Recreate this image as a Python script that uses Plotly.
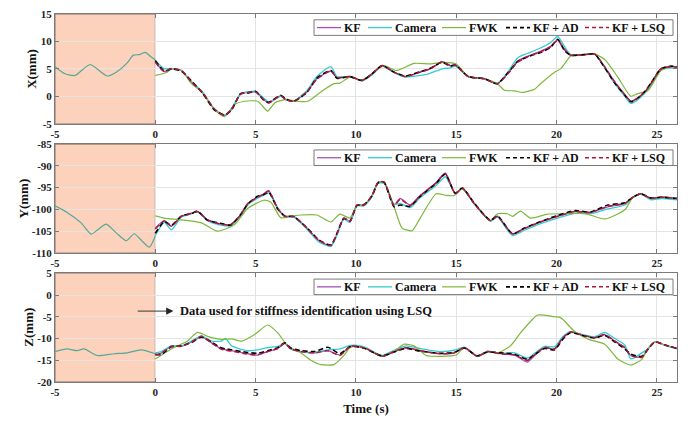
import plotly.graph_objects as go

# ---------------- data ----------------
# pre-identification window (t < 0)
pre_t_x = [-5, -4.5, -4.0, -3.25, -2.4, -1.95, -1.4, -1.1, -0.8, -0.5, -0.25, 0]
pre_x = [5.4, 4.1, 3.8, 5.8, 3.7, 4.4, 6.1, 7.5, 7.6, 8.0, 7.3, 6.6]
pre_t_y = [-5, -4.4, -3.7, -3.2, -2.85, -2.45, -1.95, -1.45, -1.05, -0.7, -0.3, 0]
pre_y = [-99.2, -100.7, -103.1, -105.7, -104.6, -103.4, -105.4, -107.2, -105.6, -107.1, -108.7, -106.1]
pre_t_z = [-5, -4.4, -3.9, -3.55, -2.9, -2.05, -1.4, -0.7, 0]
pre_z = [-13.0, -12.4, -12.8, -12.4, -13.9, -13.5, -13.3, -12.6, -13.5]

# X panel
t_x = [0, 0.45, 0.8, 1.3, 1.8, 2.35, 2.95, 3.45, 3.8, 4.25, 4.6, 5.0, 5.4, 5.65, 6.25, 6.5, 6.9, 7.55,
       8.05, 8.75, 9.05, 9.7, 10.3, 10.8, 11.3, 11.9, 12.45, 13.2, 13.7, 14.3, 14.7, 14.95, 15.6, 16.4,
       17.05, 17.55, 18.05, 18.55, 19.2, 19.7, 20.05, 20.4, 20.7, 21.4, 21.9, 22.2, 22.9, 23.4, 23.7,
       24.05, 24.4, 24.7, 25.2, 25.7, 26]
kf_x = [6.3, 4.5, 5.0, 4.7, 2.6, 0.7, -2.4, -3.5, -2.4, 0.4, 0.7, 0.8, -0.6, -1.2, 0.1, -0.6, -0.9, 0.8,
        3.2, 4.6, 3.4, 3.6, 2.9, 4.1, 5.6, 4.4, 3.6, 4.4, 5.0, 6.3, 5.6, 5.7, 3.6, 3.2, 2.3, 4.1, 6.4,
        7.3, 8.2, 9.1, 10.3, 8.5, 7.5, 7.6, 7.7, 6.4, 2.6, 0.3, -0.9, -0.3, 0.8, 2.3, 5.0, 5.4, 5.3]
cam_x = [6.6, 5.0, 5.1, 4.7, 2.7, 0.8, -2.3, -3.4, -2.2, 0.5, 0.8, 0.9, -0.3, -1.0, 0.0, -0.5, -0.8, 1.0,
         3.6, 5.4, 3.6, 3.6, 2.8, 3.9, 5.5, 4.3, 3.5, 3.8, 4.2, 5.0, 5.2, 5.5, 3.6, 3.2, 2.4, 4.3, 7.0,
         7.8, 8.8, 9.8, 10.9, 9.0, 7.6, 7.6, 7.7, 6.3, 2.3, 0.0, -1.3, -0.6, 0.6, 2.0, 4.8, 5.2, 5.1]
ad_x = [6.5, 4.6, 5.0, 4.6, 2.8, 0.6, -2.5, -3.4, -2.5, 0.5, 0.6, 0.9, -0.7, -1.1, 0.2, -0.5, -0.9, 0.7,
        3.3, 4.7, 3.3, 3.6, 2.9, 4.1, 5.6, 4.4, 3.7, 4.5, 5.1, 6.2, 5.5, 5.7, 3.6, 3.2, 2.3, 4.2, 6.3,
        7.2, 8.0, 8.9, 10.4, 8.3, 7.5, 7.6, 7.7, 6.3, 2.4, 0.2, -1.0, -0.3, 0.9, 2.4, 5.0, 5.5, 5.4]
lsq_x = [6.2, 4.5, 5.0, 4.7, 2.6, 0.7, -2.3, -3.5, -2.3, 0.4, 0.7, 0.8, -0.6, -1.2, 0.1, -0.6, -0.9, 0.8,
         3.1, 4.6, 3.4, 3.6, 2.9, 4.1, 5.6, 4.4, 3.6, 4.4, 5.0, 6.3, 5.6, 5.7, 3.6, 3.2, 2.3, 4.0, 6.2,
         7.2, 8.1, 9.0, 10.2, 8.5, 7.5, 7.6, 7.7, 6.4, 2.6, 0.3, -0.9, -0.3, 0.8, 2.3, 5.0, 5.4, 5.3]
fwk_t_x = [0, 0.6, 0.8, 1.3, 1.8, 2.3, 2.95, 3.45, 3.95, 4.45, 5.1, 5.6, 5.95, 6.45, 7.1, 7.6, 8.25, 8.9,
           9.2, 9.7, 10.3, 10.8, 11.4, 12.0, 12.9, 13.7, 14.4, 15.0, 15.6, 16.4, 17.05, 17.4, 17.9, 18.3,
           18.9, 19.2, 19.9, 20.2, 20.7, 21.2, 21.9, 22.4, 23.05, 23.7, 24.05, 24.55, 25.2, 25.7, 26]
fwk_x = [3.8, 4.4, 5.0, 4.7, 2.3, 0.8, -2.4, -3.7, -1.5, -0.9, -0.9, -2.7, -1.2, -0.6, -0.9, -0.9, 0.8,
         2.3, 2.4, 3.5, 2.9, 4.1, 5.6, 4.7, 6.0, 5.9, 6.2, 5.9, 3.6, 3.2, 2.3, 1.1, 1.0, 0.7, 1.3, 2.3,
         4.4, 5.0, 7.3, 7.6, 7.7, 6.7, 3.5, 0.0, 0.5, 1.0, 4.7, 5.4, 5.3]

# Y panel
t_y = [0, 0.45, 0.8, 1.3, 1.8, 2.1, 2.6, 3.25, 3.75, 4.25, 4.6, 5.1, 5.4, 5.65, 6.1, 6.45, 6.9, 7.55,
       8.15, 8.75, 9.05, 9.4, 9.7, 10.05, 10.4, 10.8, 11.1, 11.4, 11.9, 12.2, 12.7, 13.2, 14.0, 14.45,
       14.95, 15.3, 15.9, 16.7, 17.05, 17.8, 18.4, 19.2, 20.05, 20.9, 21.7, 22.55, 23.4, 23.8, 24.2,
       24.7, 25.2, 26]
kf_y = [-104.3, -102.6, -103.9, -101.6, -100.9, -100.5, -102.4, -103.4, -103.5, -101.3, -98.7, -97.2,
        -96.4, -95.7, -99.8, -101.6, -101.6, -104.3, -107.2, -108.4, -105.7, -102.0, -102.8, -99.0,
        -99.0, -96.8, -93.8, -93.7, -99.0, -97.5, -99.0, -96.8, -93.8, -91.6, -96.4, -95.1, -98.7,
        -102.6, -101.6, -105.7, -104.4, -102.9, -101.6, -100.5, -100.7, -99.4, -98.7, -97.2, -96.4,
        -97.5, -97.2, -97.5]
cam_y = [-106.0, -103.0, -104.7, -101.8, -101.0, -100.6, -102.6, -103.6, -103.8, -101.5, -99.0, -97.4,
         -96.8, -96.2, -99.6, -101.6, -101.8, -104.5, -107.5, -108.5, -106.0, -102.2, -103.0, -99.2,
         -99.2, -97.0, -94.0, -94.0, -98.8, -98.6, -99.6, -97.3, -94.5, -92.5, -96.2, -95.2, -98.8,
         -102.7, -101.8, -106.0, -104.8, -103.3, -102.0, -100.9, -101.0, -99.9, -99.0, -97.3, -96.5,
         -97.8, -97.5, -97.8]
ad_y = [-105.5, -102.8, -103.7, -101.5, -101.0, -100.4, -102.5, -103.2, -103.6, -101.2, -98.8, -97.0,
        -96.6, -96.0, -99.9, -101.5, -101.7, -104.2, -107.0, -108.2, -105.5, -102.1, -102.7, -99.1,
        -98.9, -96.9, -93.9, -93.8, -99.4, -99.0, -99.3, -97.0, -94.0, -91.9, -96.3, -95.1, -98.6,
        -102.5, -101.5, -105.6, -104.3, -102.8, -101.4, -100.3, -100.6, -99.0, -98.5, -97.2, -96.4,
        -97.4, -97.2, -97.5]
lsq_y = [-104.5, -102.7, -103.8, -101.6, -100.9, -100.5, -102.4, -103.4, -103.5, -101.3, -98.7, -97.2,
         -96.5, -95.8, -99.8, -101.6, -101.6, -104.3, -107.1, -108.3, -105.6, -102.0, -102.8, -99.0,
         -99.0, -96.8, -93.8, -93.7, -99.1, -97.7, -99.1, -96.9, -93.9, -91.8, -96.4, -95.1, -98.7,
         -102.6, -101.6, -105.6, -104.4, -102.9, -101.6, -100.5, -100.7, -99.3, -98.6, -97.2, -96.4,
         -97.5, -97.2, -97.5]
fwk_t_y = [0, 0.45, 1.3, 2.3, 3.1, 3.95, 4.6, 5.4, 5.75, 6.25, 6.75, 7.25, 8.05, 8.75, 9.2, 9.7, 10.05,
           10.4, 10.8, 11.1, 11.4, 11.9, 12.3, 12.8, 13.2, 14.0, 14.5, 14.9, 15.3, 15.9, 16.7, 17.05,
           17.55, 17.8, 18.2, 18.7, 19.55, 20.55, 21.4, 22.4, 23.4, 23.8, 24.2, 24.7, 25.2, 26]
fwk_y = [-101.5, -102.0, -102.4, -103.1, -105.0, -103.5, -99.8, -97.9, -98.3, -101.9, -101.6, -101.3,
         -101.3, -102.9, -101.1, -102.0, -99.0, -99.0, -96.8, -93.8, -93.7, -99.4, -104.3, -104.9,
         -102.0, -96.4, -96.8, -96.8, -95.3, -98.7, -102.6, -101.0, -101.0, -101.6, -100.4, -102.0,
         -101.1, -101.0, -100.9, -102.2, -100.1, -97.2, -96.4, -97.5, -97.2, -97.5]

# Z panel
t_z = [0, 0.3, 0.8, 1.3, 1.8, 2.3, 2.8, 3.3, 3.5, 3.8, 4.6, 5.1, 5.6, 6.1, 6.45, 6.75, 7.25, 7.95, 8.6,
       9.2, 9.7, 10.05, 10.5, 11.3, 11.9, 12.5, 13.2, 14.2, 14.9, 15.4, 16.05, 16.55, 17.2, 17.9, 18.55,
       18.9, 19.4, 19.9, 20.3, 20.7, 21.2, 21.9, 22.4, 22.9, 23.4, 23.7, 24.25, 24.55, 24.9, 25.4, 26]
kf_z = [-13.9, -13.3, -11.8, -11.8, -10.8, -9.6, -11.0, -12.4, -12.6, -12.8, -13.5, -13.8, -13.0, -12.3,
        -11.1, -12.4, -13.0, -13.3, -12.8, -13.8, -11.8, -11.8, -12.3, -14.1, -13.0, -12.1, -12.8, -13.5,
        -13.3, -12.1, -14.1, -13.0, -13.5, -13.8, -15.4, -13.9, -12.1, -12.4, -9.8, -8.4, -9.1, -9.8,
        -9.1, -10.6, -12.1, -13.9, -14.3, -12.4, -10.8, -11.5, -12.3]
cam_z = [-13.3, -13.0, -11.7, -11.7, -10.6, -9.4, -10.6, -10.6, -10.0, -11.7, -12.8, -12.6, -12.1, -11.8,
         -11.1, -12.4, -13.0, -13.2, -12.6, -12.4, -11.6, -11.6, -12.1, -13.9, -12.7, -11.7, -12.3,
         -13.0, -12.7, -12.0, -14.0, -12.9, -13.4, -13.3, -14.5, -13.4, -11.8, -11.9, -9.6, -8.5, -9.0,
         -9.6, -8.6, -10.0, -11.5, -14.7, -13.3, -12.4, -10.8, -11.6, -12.4]
ad_z = [-13.6, -13.7, -11.9, -11.7, -10.9, -9.7, -10.8, -12.2, -12.4, -12.6, -13.2, -13.4, -12.8, -12.1,
        -11.0, -12.2, -12.8, -13.0, -12.0, -13.5, -11.9, -11.9, -12.4, -14.0, -13.1, -12.3, -12.9, -13.4,
        -13.2, -12.2, -14.0, -13.1, -13.3, -13.6, -14.8, -13.7, -12.3, -12.6, -10.2, -8.6, -9.2, -9.9,
        -9.3, -10.8, -12.4, -13.6, -14.1, -12.5, -10.8, -11.5, -12.3]
lsq_z = [-13.8, -13.4, -11.8, -11.8, -10.8, -9.5, -11.0, -12.5, -12.7, -12.9, -13.6, -13.7, -13.0, -12.3,
         -11.1, -12.4, -13.0, -13.3, -12.8, -13.9, -11.8, -11.8, -12.3, -14.1, -13.0, -12.1, -12.8,
         -13.5, -13.3, -12.1, -14.1, -13.0, -13.5, -13.8, -15.0, -13.8, -12.1, -12.4, -9.9, -8.5, -9.1,
         -9.8, -9.1, -10.6, -12.1, -13.9, -14.3, -12.4, -10.8, -11.5, -12.3]
fwk_t_z = [0, 0.8, 1.6, 2.1, 2.6, 3.3, 3.8, 4.3, 4.95, 5.6, 6.1, 6.6, 7.25, 7.75, 8.25, 8.9, 9.4, 9.7,
           10.05, 10.5, 11.3, 11.9, 12.4, 12.9, 13.5, 14.2, 15.0, 15.4, 16.05, 16.55, 17.05, 17.7, 18.2,
           18.7, 19.05, 19.9, 20.2, 20.9, 21.6, 22.4, 23.05, 23.7, 24.25, 24.55, 24.9, 25.4, 26]
fwk_z = [-14.7, -12.4, -10.6, -8.6, -9.5, -10.2, -10.1, -10.6, -9.1, -6.9, -8.7, -11.7, -13.3, -15.0,
         -16.0, -16.0, -13.9, -12.1, -11.8, -12.3, -14.1, -13.0, -11.3, -11.7, -13.9, -14.1, -13.8,
         -12.1, -14.1, -13.0, -13.3, -11.7, -8.7, -6.1, -4.6, -5.0, -5.2, -8.4, -10.2, -11.3, -14.7,
         -16.1, -14.8, -12.3, -10.8, -11.5, -12.3]

series_names = ["KF", "Camera", "FWK", "KF + AD", "KF + LSQ"]
axis_titles = ["X(mm)", "Y(mm)", "Z(mm)"]
y_ranges = [[-5, 15], [-110, -85], [-20, 5]]
y_tick_vals = [[-5, 0, 5, 10, 15], [-110, -105, -100, -95, -90, -85], [-20, -15, -10, -5, 0, 5]]
y_tick_text = [["-5", "0", "5", "10", "15"], ["-110", "-105", "-100", "-95", "-90", "-85"],
               ["-20", "-15", "-10", "-5", "0", "5"]]
x_ticks = [-5, 0, 5, 10, 15, 20, 25]
x_tick_text = ["-5", "0", "5", "10", "15", "20", "25"]
annot_text = "Data used for stiffness identification using LSQ"

# ---------------- styling ----------------
FONT = "Liberation Serif, Times New Roman, serif"
W, H = 694, 421
ML, MR, MT, MB = 55, 17, 8, 34
PW, PH = W - ML - MR, H - MT - MB
colors = {"KF": "#A352B5", "Camera": "#33CDD3", "FWK": "#7DB83A",
          "KF + AD": "#000000", "KF + LSQ": "#B0163A"}
dashes = {"KF": "solid", "Camera": "solid", "FWK": "solid", "KF + AD": "5px,3px", "KF + LSQ": "5px,3px"}
widths = {"KF": 1.3, "Camera": 1.3, "FWK": 1.2, "KF + AD": 1.6, "KF + LSQ": 1.5}
pre_color = "#55A898"
domains = [[0.7018, 1.0], [0.3509, 0.6464], [0.0, 0.2955]]


def xp(px):
    return (px - ML) / PW


def yp(py):
    return (H - MB - py) / PH


panels = [
    (pre_t_x, pre_x, t_x, [kf_x, cam_x, ad_x, lsq_x], fwk_t_x, fwk_x),
    (pre_t_y, pre_y, t_y, [kf_y, cam_y, ad_y, lsq_y], fwk_t_y, fwk_y),
    (pre_t_z, pre_z, t_z, [kf_z, cam_z, ad_z, lsq_z], fwk_t_z, fwk_z),
]

fig = go.Figure()
for i, (pt, pv, t, (kf, cam, ad, lsq), ft, fv) in enumerate(panels):
    xa = "x" if i == 0 else f"x{i+1}"
    ya = "y" if i == 0 else f"y{i+1}"
    vals = {"KF": (t, kf), "Camera": (t, cam), "FWK": (ft, fv), "KF + AD": (t, ad), "KF + LSQ": (t, lsq)}
    fig.add_trace(go.Scatter(x=pt, y=pv, mode="lines", xaxis=xa, yaxis=ya, showlegend=False,
                             line=dict(color=pre_color, width=1.2, shape="spline", smoothing=0.6),
                             hoverinfo="skip"))
    for name in series_names:
        xs, ys = vals[name]
        fig.add_trace(go.Scatter(x=xs, y=ys, mode="lines", name=name, xaxis=xa, yaxis=ya,
                                 showlegend=False,
                                 line=dict(color=colors[name], width=widths[name], dash=dashes[name],
                                           shape="spline", smoothing=0.6)))
    # shaded identification window
    fig.add_shape(type="rect", xref=xa, yref=ya, x0=-5, x1=0, y0=y_ranges[i][0], y1=y_ranges[i][1],
                  fillcolor="#FDD2BD", line=dict(color="#8C7366", width=1), layer="below")

    # hand-drawn compact legend (MATLAB style)
    top_px = H - MB - domains[i][1] * PH
    box_l, box_r = 314, 673
    box_t, box_b = top_px + 6, top_px + 22
    cy = (box_t + box_b) / 2
    fig.add_shape(type="rect", xref="paper", yref="paper", x0=xp(box_l), x1=xp(box_r),
                  y0=yp(box_b), y1=yp(box_t), fillcolor="white",
                  line=dict(color="#7A7A7A", width=1), layer="above")
    item_x = [317, 368, 442, 506, 585]
    for name, lx in zip(series_names, item_x):
        fig.add_shape(type="line", xref="paper", yref="paper", x0=xp(lx), x1=xp(lx + 24),
                      y0=yp(cy), y1=yp(cy), layer="above",
                      line=dict(color=colors[name], width=widths[name],
                                dash="solid" if dashes[name] == "solid" else "4px,3px"))
        fig.add_annotation(x=xp(lx + 25), y=yp(cy), xref="paper", yref="paper", text=name,
                           showarrow=False, xanchor="left", yanchor="middle",
                           font=dict(family=FONT, size=12, color="#111111", weight="bold"))

axis_common = dict(showline=True, linecolor="#7A7A7A", linewidth=1, mirror="allticks",
                   ticks="inside", ticklen=4, tickcolor="#7A7A7A",
                   showgrid=True, gridcolor="#E4E4E4", gridwidth=1, zeroline=False,
                   tickfont=dict(family=FONT, size=11, color="#222222", weight="bold"))
layout = dict(
    width=W, height=H,
    margin=dict(l=ML, r=MR, t=MT, b=MB),
    plot_bgcolor="white", paper_bgcolor="white",
    font=dict(family=FONT, color="#111111"),
    showlegend=False,
)
title_px = [32, 23, 29]
for i in range(3):
    xk = "xaxis" if i == 0 else f"xaxis{i+1}"
    yk = "yaxis" if i == 0 else f"yaxis{i+1}"
    ya = "y" if i == 0 else f"y{i+1}"
    xa = "x" if i == 0 else f"x{i+1}"
    layout[xk] = dict(axis_common, range=[-5, 26], tickvals=x_ticks, ticktext=x_tick_text,
                      anchor=ya, domain=[0, 1])
    layout[yk] = dict(axis_common, range=y_ranges[i], tickvals=y_tick_vals[i], ticktext=y_tick_text[i],
                      anchor=xa, domain=domains[i])
layout["xaxis3"]["title"] = dict(text="Time (s)", standoff=6,
                                 font=dict(family=FONT, size=13, color="#111111", weight="bold"))
fig.update_layout(**layout)

for i in range(3):
    fig.add_annotation(x=xp(title_px[i]), y=sum(domains[i]) / 2, xref="paper", yref="paper",
                       text=axis_titles[i], textangle=-90, showarrow=False,
                       xanchor="center", yanchor="middle",
                       font=dict(family=FONT, size=13, color="#111111", weight="bold"))

fig.add_annotation(x=0.9, y=-3.7, ax=-0.95, ay=-3.7, xref="x3", yref="y3", axref="x3", ayref="y3",
                   text="", showarrow=True, arrowhead=2, arrowsize=1.6, arrowwidth=0.9,
                   arrowcolor="#222222")
fig.add_annotation(x=1.15, y=-3.7, xref="x3", yref="y3", text=annot_text, showarrow=False,
                   xanchor="left", yanchor="middle",
                   font=dict(family=FONT, size=12.5, color="#111111", weight="bold"))

fig.write_html("out.html")
